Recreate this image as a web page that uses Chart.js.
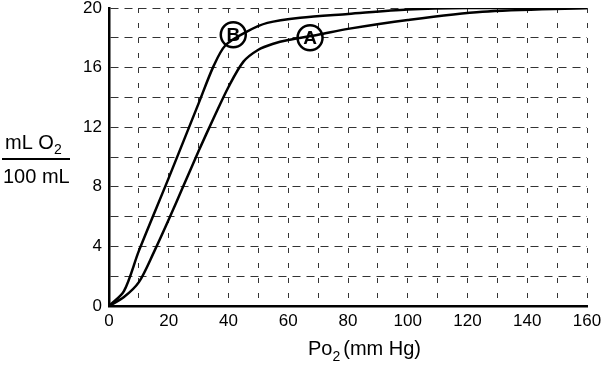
<!DOCTYPE html>
<html>
<head>
<meta charset="utf-8">
<script src="https://cdn.jsdelivr.net/npm/chart.js@4"></script>
<style>
  html, body { margin: 0; padding: 0; background: #fff; }
  #wrap { width: 602px; height: 368px; position: relative; }
</style>
</head>
<body>
<div id="wrap"><canvas id="chart"></canvas></div>
<script>
// Po2 (mm Hg) readings for each curve
const curveAx = [0, 5, 10, 15, 20, 25, 30, 35, 40, 45, 50, 55, 60, 70, 80, 100, 125, 160];
const curveAy = [0, 0.6, 1.6, 3.6, 5.8, 8.1, 10.4, 12.6, 14.7, 16.4, 17.2, 17.6, 17.85, 18.2, 18.6, 19.2, 19.75, 20];
const curveBx = [0, 5, 10, 20, 30, 35, 39, 46, 53, 64, 80, 100, 120, 160];
const curveBy = [0, 1.0, 3.7, 8.6, 13.6, 16.1, 17.5, 18.4, 19.0, 19.35, 19.6, 19.9, 20, 20];

// circled curve labels
const markerNames = ['B', 'A'];
const markerX = [41.6, 67.3];
const markerY = [18.2, 18.0];

const xTicksMax = 160;
const yTicksMax = 20;

const toPoints = (xs, ys) => xs.map((x, i) => ({ x: x, y: ys[i] }));

const FONT = '"Liberation Sans", Arial, sans-serif';

/**
 * Draws letters in the circle markers and the axis titles
 */
const labelsPlugin = {
    id: 'labels',
    afterDatasetsDraw(chart) {
        const ctx = chart.ctx;
        const meta = chart.getDatasetMeta(2);
        ctx.save();
        ctx.fillStyle = '#000';
        ctx.textAlign = 'center';
        ctx.textBaseline = 'middle';
        ctx.font = 'bold 19px ' + FONT;
        meta.data.forEach((pt, i) => {
            ctx.fillText(markerNames[i], pt.x, pt.y + 1);
        });
        ctx.restore();
    },
    afterDraw(chart) {
        const ctx = chart.ctx;
        ctx.save();
        ctx.fillStyle = '#000';
        ctx.strokeStyle = '#000';
        ctx.textBaseline = 'alphabetic';
        ctx.textAlign = 'left';

        // y title as a fraction
        ctx.font = '20px ' + FONT;
        ctx.fillText('mL O', 5, 149);
        let w = ctx.measureText('mL O').width;
        ctx.font = '14px ' + FONT;
        ctx.fillText('2', 5 + w, 154);
        ctx.lineWidth = 2;
        ctx.beginPath();
        ctx.moveTo(2, 159);
        ctx.lineTo(70, 159);
        ctx.stroke();
        ctx.font = '20px ' + FONT;
        ctx.fillText('100 mL', 3, 183);

        // x title
        ctx.font = '20px ' + FONT;
        ctx.fillText('Po', 308, 355);
        w = ctx.measureText('Po').width;
        ctx.font = '14px ' + FONT;
        ctx.fillText('2', 308 + w, 361);
        const w2 = ctx.measureText('2').width;
        ctx.font = '20px ' + FONT;
        ctx.fillText('(mm Hg)', 308 + w + w2 + 3, 355);
        ctx.restore();
    }
};

new Chart(document.getElementById('chart'), {
    type: 'line',
    data: {
        datasets: [
            {
                data: toPoints(curveAx, curveAy),
                borderColor: '#000',
                borderWidth: 2.5,
                pointRadius: 0,
                tension: 0.3,
            },
            {
                data: toPoints(curveBx, curveBy),
                borderColor: '#000',
                borderWidth: 2.5,
                pointRadius: 0,
                tension: 0.3,
            },
            {
                data: toPoints(markerX, markerY),
                showLine: false,
                pointRadius: 12.5,
                pointBorderWidth: 2.5,
                pointBorderColor: '#000',
                pointBackgroundColor: '#fff',
            },
        ],
    },
    options: {
        responsive: true,
        maintainAspectRatio: false,
        animation: false,
        layout: { autoPadding: false, padding: { top: 8, right: 15, left: 0, bottom: 0 } },
        plugins: {
            legend: { display: false },
            tooltip: { enabled: false },
        },
        scales: {
            x: {
                type: 'linear',
                min: 0,
                max: xTicksMax,
                afterFit: (scale) => {
                    scale.height = 62;
                    scale.paddingLeft = 0;
                    scale.paddingRight = 0;
                },
                border: { display: true, color: '#000', width: 2.5, dash: [5, 10] },
                grid: {
                    color: '#333',
                    lineWidth: 1,
                    drawTicks: false,
                },
                ticks: {
                    stepSize: 10,
                    autoSkip: false,
                    maxRotation: 0,
                    padding: 5,
                    color: '#000',
                    font: { family: FONT, size: 17 },
                    callback: (v) => (v % 20 === 0 ? v : ''),
                },
            },
            y: {
                type: 'linear',
                min: 0,
                max: yTicksMax,
                afterFit: (scale) => {
                    scale.width = 109;
                    scale.paddingTop = 0;
                    scale.paddingBottom = 0;
                },
                border: { display: true, color: '#000', width: 2.5, dash: [8, 6] },
                grid: {
                    color: '#333',
                    lineWidth: 1,
                    drawTicks: false,
                },
                ticks: {
                    stepSize: 2,
                    autoSkip: false,
                    padding: 7,
                    color: '#000',
                    font: { family: FONT, size: 17 },
                    callback: (v) => (v % 4 === 0 ? v : ''),
                },
            },
        },
    },
    plugins: [labelsPlugin],
});
</script>
</body>
</html>
